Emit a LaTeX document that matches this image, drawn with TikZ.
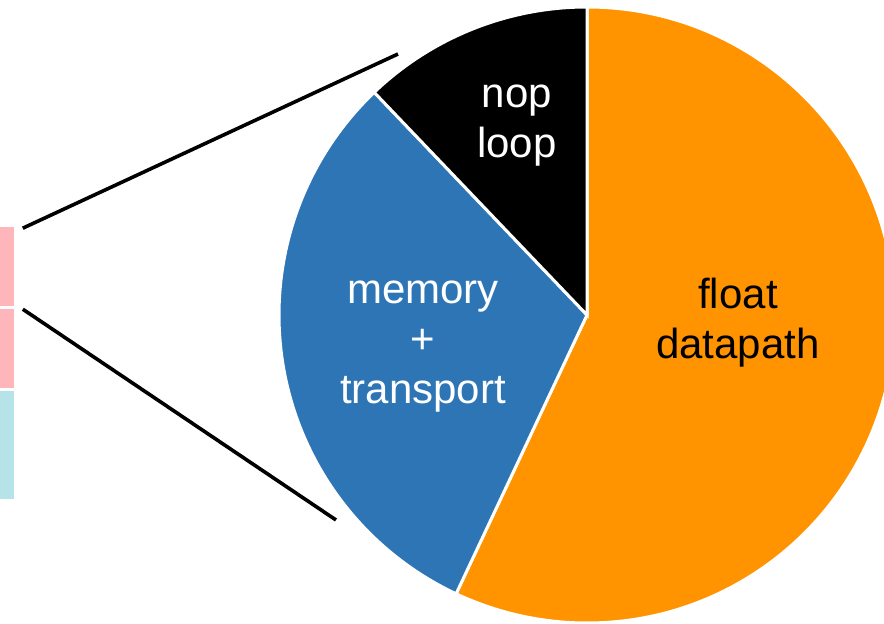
\documentclass[tikz,border=0pt]{standalone}
\usepackage{fontspec}
\setmainfont{Liberation Sans}
\usetikzlibrary{positioning,calc}
\definecolor{floatc}{RGB}{255,147,0}
\definecolor{memc}{RGB}{46,117,182}
\definecolor{barpink}{RGB}{255,182,186}
\definecolor{barblue}{RGB}{182,227,232}
\begin{document}
\begin{tikzpicture}[x=1pt,y=1pt,slice/.style = {draw=white, line width=3pt},lbl/.style = {align=center, font=\fontsize{42}{50}\selectfont},bar/.style = {draw=white, line width=0.8pt, minimum width=15pt, inner sep=0pt, anchor=south west}]
\clip (0,0) rectangle (884,624);
\coordinate (O) at (587,309);
\filldraw[slice,fill=floatc] (O) -- ++(90:308) arc (90:-115.15:308) -- cycle;
\filldraw[slice,fill=memc] (O) -- ++(244.85:308) arc (244.85:133.7:308) -- cycle;
\filldraw[slice,fill=black] (O) -- ++(133.7:308) arc (133.7:90:308) -- cycle;
\node (nop) at (517,498)[lbl,text=white] {nop\\loop};
\node (mem) at (423,277)[lbl,text=white] {memory\\+\\transport};
\node (flt) at (738,301)[lbl,text=black] {float\\datapath};
\node (b1) at (-1,317)[bar,fill=barpink,minimum height=80pt] {};
\node (b2) at (-1,235)[bar,fill=barpink,minimum height=80pt] {};
\node (b3) at (-1,124)[bar,fill=barblue,minimum height=109pt] {};
\coordinate (t) at (398,570);
\coordinate (u) at (336,104);
\draw[line width=3.6pt] ($(b1.north east)+(8,-2)$)--(t);
\draw[line width=3.6pt] ($(b2.north east)+(8,-1)$)--(u);
\end{tikzpicture}
\end{document}
